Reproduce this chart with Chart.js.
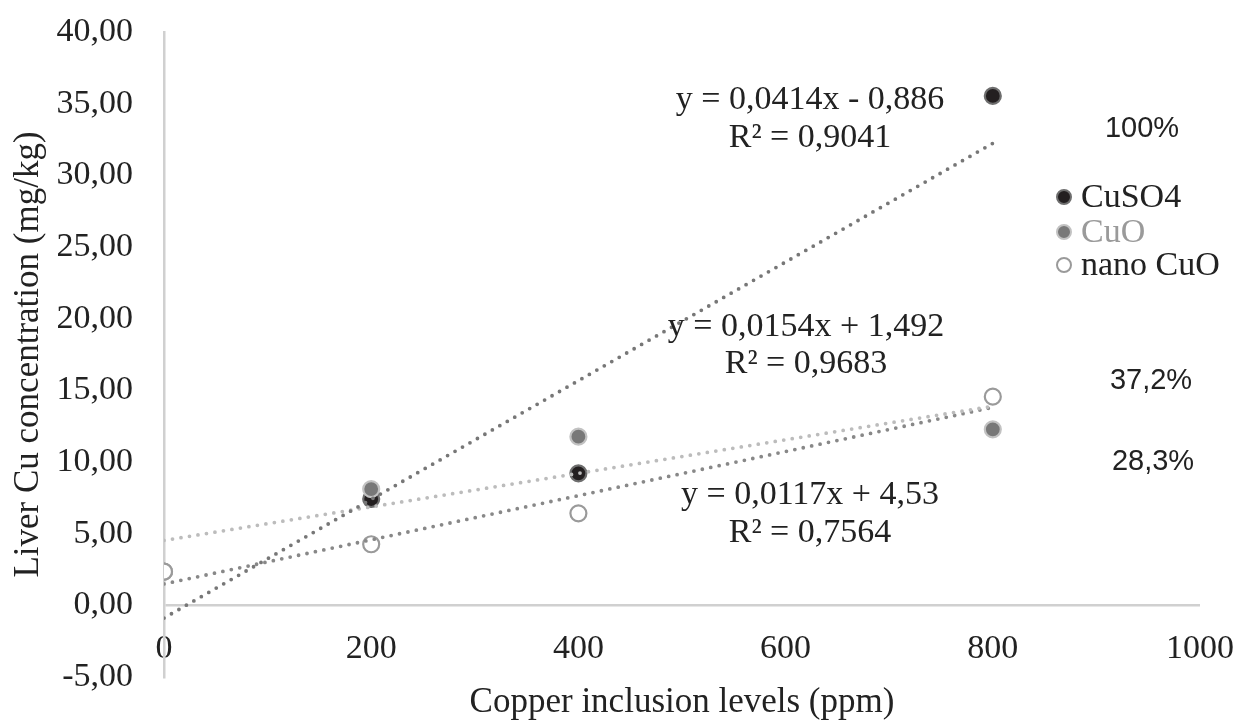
<!DOCTYPE html>
<html>
<head>
<meta charset="utf-8">
<script src="https://cdn.jsdelivr.net/npm/chart.js@4/dist/chart.umd.min.js"></script>
<style>
html,body{margin:0;padding:0;background:#fff;}
#wrap{width:1240px;height:721px;position:relative;}
</style>
</head>
<body>
<div id="wrap"><canvas id="c" width="1240" height="721"></canvas></div>
<script>
// ---- data ----
const levels = [0, 200, 400, 800];
const seriesNames = ["CuSO4", "CuO", "nano CuO"];
const cuso4 = [2.35, 7.42, 9.21, 35.54];
const cuo = [2.35, 8.11, 11.77, 12.28];
const nanoCuo = [2.35, 4.26, 6.42, 14.56];
const trendSlopes = [0.0414, 0.0117, 0.0154];
const trendIntercepts = [-0.886, 4.53, 1.492];
const trendRange = [0, 800];
const equationTexts = [
  ["y = 0,0414x - 0,886", "R² = 0,9041"],
  ["y = 0,0154x + 1,492", "R² = 0,9683"],
  ["y = 0,0117x + 4,53", "R² = 0,7564"]
];
const percentLabels = ["100%", "37,2%", "28,3%"];
const xTicks = [0, 200, 400, 600, 800, 1000];
const yTicks = [-5, 0, 5, 10, 15, 20, 25, 30, 35, 40];

const serif = "'Liberation Serif', 'Times New Roman', serif";
const sans = "'Liberation Sans', Arial, sans-serif";

const pts = (arr) => levels.map((x, i) => ({x: x, y: arr[i]}));
const trend = (k) => trendRange.map(x => ({x: x, y: trendSlopes[k] * x + trendIntercepts[k]}));

const styles = [
  {bg: '#231f20', border: '#6e6e6e', trend: '#777777'},
  {bg: '#787878', border: '#c2c2c2', trend: '#bcbcbc'},
  {bg: '#ffffff', border: '#9a9a9a', trend: '#888888'}
];
const values = [cuso4, cuo, nanoCuo];

const datasets = [];
values.forEach((v, k) => {
  datasets.push({
    type: 'scatter', label: seriesNames[k], data: pts(v),
    backgroundColor: styles[k].bg, borderColor: styles[k].border,
    borderWidth: 2.2, pointRadius: 8, pointHoverRadius: 8, order: 3 - k
  });
});
values.forEach((v, k) => {
  datasets.push({
    type: 'line', label: 'trend ' + seriesNames[k], data: trend(k),
    borderColor: styles[k].trend, borderWidth: 3.8, borderDash: [0, 8.6],
    borderCapStyle: 'round', pointRadius: 0, fill: false, order: 0, tension: 0
  });
});

const annot = {
  id: 'annot',
  afterDatasetsDraw(chart) {
    const ctx = chart.ctx;
    ctx.save();
    ctx.textAlign = 'center';
    ctx.textBaseline = 'middle';
    ctx.fillStyle = '#222';
    ctx.font = '34px ' + serif;
    const eqPos = [[810, 100, 138], [806, 327, 364], [810, 495, 533]];
    equationTexts.forEach((t, i) => {
      ctx.fillText(t[0], eqPos[i][0], eqPos[i][1]);
      ctx.fillText(t[1], eqPos[i][0], eqPos[i][2]);
    });
    ctx.font = '29px ' + sans;
    const pPos = [[1142, 129], [1151, 381], [1153, 462]];
    percentLabels.forEach((t, i) => ctx.fillText(t, pPos[i][0], pPos[i][1]));
    // legend
    const legY = [197, 232, 265];
    const legText = ['#222', '#9a9a9a', '#222'];
    ctx.textAlign = 'left';
    ctx.font = '34px ' + serif;
    seriesNames.forEach((n, i) => {
      ctx.beginPath();
      ctx.arc(1064, legY[i], 7, 0, Math.PI * 2);
      ctx.fillStyle = styles[i].bg;
      ctx.fill();
      ctx.lineWidth = 2;
      ctx.strokeStyle = styles[i].border;
      ctx.stroke();
      ctx.fillStyle = legText[i];
      ctx.fillText(n, 1081, legY[i] + 1);
    });
    ctx.restore();
  }
};

new Chart(document.getElementById('c'), {
  data: {datasets: datasets},
  options: {
    responsive: false,
    animation: false,
    layout: {padding: {left: 0, right: 40, top: 32, bottom: 0}},
    plugins: {legend: {display: false}, tooltip: {enabled: false}},
    scales: {
      x: {
        type: 'linear', position: 'bottom', min: 0, max: 1000,
        afterBuildTicks: (s) => { s.ticks = xTicks.map(v => ({value: v})); },
        afterFit: (s) => { s.height = 44; s.paddingLeft = 0; s.paddingRight = 0; },
        grid: {display: false, drawTicks: false},
        border: {display: false},
        ticks: {color: '#222', font: {family: serif, size: 34}, padding: 8, mirror: true,
                maxRotation: 0, autoSkip: false, callback: (v) => String(v)},
        title: {display: true, text: 'Copper inclusion levels (ppm)', color: '#222',
                font: {family: serif, size: 35}, padding: {top: 0, bottom: -3}}
      },
      y: {
        type: 'linear', position: 'left', min: -5, max: 40,
        afterBuildTicks: (s) => { s.ticks = yTicks.map(v => ({value: v})); },
        afterFit: (s) => { s.width = 164; s.paddingTop = 0; s.paddingBottom = 0; },
        grid: {display: true, drawTicks: false, lineWidth: 2.5,
               color: (c) => (c.tick && c.tick.value === 0) ? '#d0d0d0' : 'rgba(0,0,0,0)'},
        border: {display: true, color: '#d0d0d0', width: 2.5},
        ticks: {color: '#222', font: {family: serif, size: 34}, padding: 31,
                callback: (v) => v.toFixed(2).replace('.', ',')},
        title: {display: true, text: 'Liver Cu concentration (mg/kg)', color: '#222',
                font: {family: serif, size: 35}, padding: {top: 8, bottom: 0}}
      }
    }
  },
  plugins: [annot]
});
</script>
</body>
</html>
